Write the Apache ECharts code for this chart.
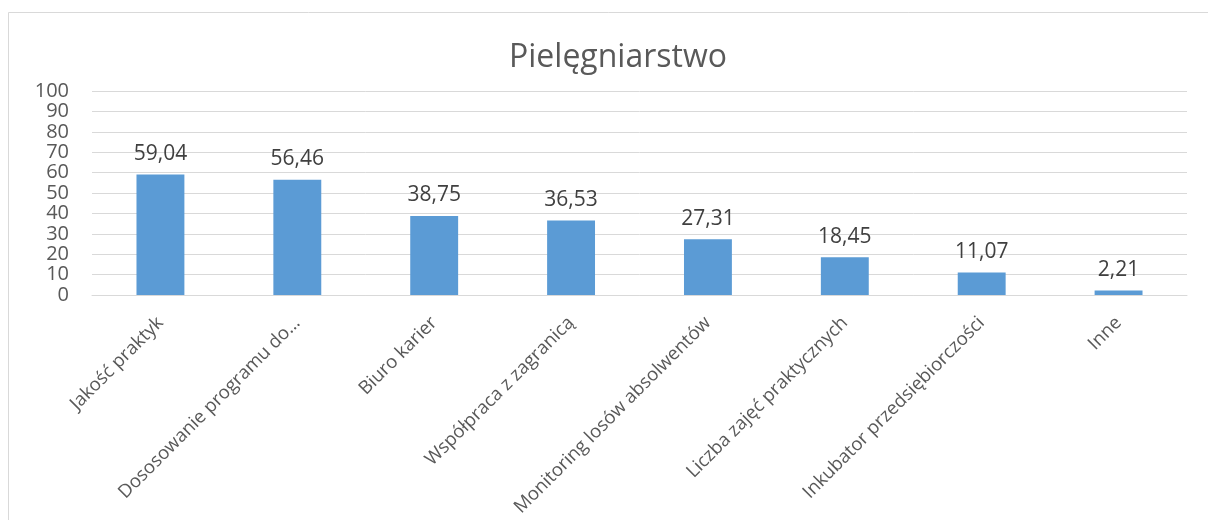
<!DOCTYPE html>
<html>
<head>
<meta charset="utf-8">
<script src="https://cdn.jsdelivr.net/npm/echarts@6/dist/echarts.min.js"></script>
<style>
  html, body { margin: 0; padding: 0; background: #ffffff; }
  #chart { width: 1208px; height: 520px; }
</style>
</head>
<body>
<div id="chart"></div>
<script>
// Categories and values of the bar chart
const categories = [
  'Jakość praktyk',
  'Dososowanie programu do…',
  'Biuro karier',
  'Współpraca z zagranicą',
  'Monitoring losów absolwentów',
  'Liczba zajęć praktycznych',
  'Inkubator przedsiębiorczości',
  'Inne'
];
const values = [59.04, 56.46, 38.75, 36.53, 27.31, 18.45, 11.07, 2.21];
const chartTitle = 'Pielęgniarstwo';

const FONT = '"Open Sans", "Noto Sans", sans-serif';

const chart = echarts.init(document.getElementById('chart'), null, { renderer: 'canvas' });

chart.setOption({
  backgroundColor: '#ffffff',
  animation: false,
  graphic: [{
    // outer frame of the chart area
    type: 'rect',
    shape: { x: 8.5, y: 12.5, width: 1220, height: 530 },
    style: { fill: 'none', stroke: '#d9d9d9', lineWidth: 1 },
    silent: true,
    z: -1
  }],
  title: {
    text: chartTitle,
    left: 613,
    textAlign: 'center',
    top: 37,
    textStyle: { fontFamily: FONT, fontSize: 32, fontWeight: 'normal', color: '#595959' }
  },
  grid: { left: 92, right: 21, top: 91, bottom: 225, containLabel: false },
  xAxis: {
    type: 'category',
    data: categories,
    axisLine: { lineStyle: { color: '#d9d9d9', width: 1 } },
    axisTick: { show: false },
    axisLabel: {
      rotate: 45,
      interval: 0,
      margin: 25,
      fontFamily: FONT,
      fontSize: 18.5,
      color: '#595959'
    }
  },
  yAxis: {
    type: 'value',
    min: 0,
    max: 100,
    interval: 10,
    axisLine: { show: false },
    axisTick: { show: false },
    splitLine: { lineStyle: { color: '#d9d9d9', width: 1 } },
    axisLabel: {
      margin: 23,
      fontFamily: FONT,
      fontSize: 20,
      color: '#595959'
    }
  },
  series: [{
    type: 'bar',
    data: values,
    barWidth: '35%',
    itemStyle: { color: '#5b9bd5' },
    label: {
      show: true,
      position: 'top',
      distance: 10,
      fontFamily: FONT,
      fontSize: 21,
      color: '#404040',
      formatter: p => p.value.toFixed(2).replace('.', ',')
    }
  }]
});
</script>
</body>
</html>
